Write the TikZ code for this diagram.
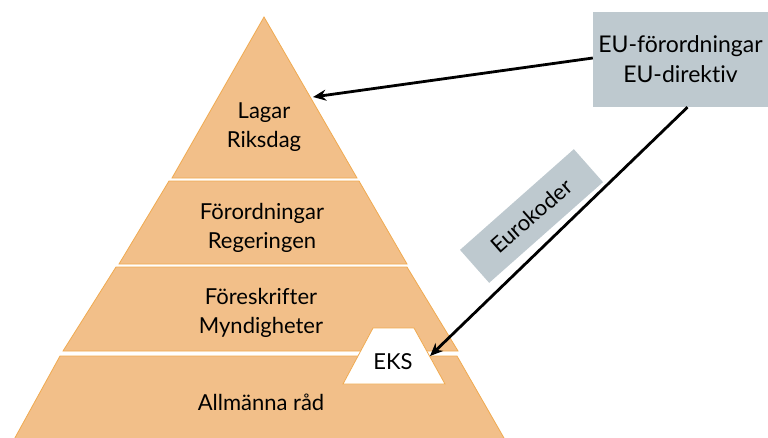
\documentclass[tikz,border=0pt]{standalone}
\usepackage{fontspec}
\setmainfont{Lato}[Ligatures={TeX,CommonOff}]
\usetikzlibrary{arrows.meta}
\definecolor{layerfill}{RGB}{242,191,137}
\definecolor{layerline}{RGB}{240,170,80}
\definecolor{eugray}{RGB}{190,201,207}
\begin{document}
\begin{tikzpicture}[x=1pt,y=-1pt,
  layer/.style={fill=layerfill,draw=layerline,line width=0.8pt,line join=miter},
  label/.style={align=center,font=\fontsize{22}{29}\selectfont,inner sep=0pt},
  eubox/.style={fill=eugray,minimum width=175pt,minimum height=95pt,inner sep=0pt},
  link/.style={line width=2.8pt,-{Stealth[length=13pt,width=11pt]}}]
\useasboundingbox (0,0) rectangle (768,437);
% pyramid layers
\draw[layer] (264,17)--(357,178)--(172,178)--cycle;
\draw[layer] (169,181)--(359,181)--(407,264)--(119,264)--cycle;
\draw[layer] (116,267)--(407,267)--(458,351)--(63,351)--cycle;
\begin{scope}
\clip (0,0) rectangle (768,437);
\draw[layer] (60,356)--(457,356)--(508,445)--(11,445)--cycle;
\end{scope}
\node[label] (lagar) at (264,127) {Lagar\\Riksdag};
\node[label] (forordn) at (262,228) {Förordningar\\Regeringen};
\node[label] (foreskr) at (261,313) {Föreskrifter\\Myndigheter};
\node[label] (allm) at (261,402) {Allmänna råd};
% EKS
\draw[fill=white,draw=layerline,line width=0.8pt] (373,328)--(414,328)--(445,384)--(343,384)--cycle;
\node[label] (eks) at (393,362) {EKS};
\coordinate (eksin) at (430,356);
\coordinate (lagarin) at (313,97);
% EU
\node[eubox,label,font=\fontsize{23}{30}\selectfont] (eu) at (680.5,59.5) {EU-förordningar\\EU-direktiv};
\node[fill=eugray,minimum width=152pt,minimum height=44pt,inner sep=0pt,
  rotate=41.5,font=\fontsize{22}{29}\selectfont] (euro) at (531.5,216) {Eurokoder};
\draw[link] (eu.west |- 0,58) -- (lagarin);
\draw[link] ([xshift=7pt]eu.south) -- (eksin);
\end{tikzpicture}
\end{document}
